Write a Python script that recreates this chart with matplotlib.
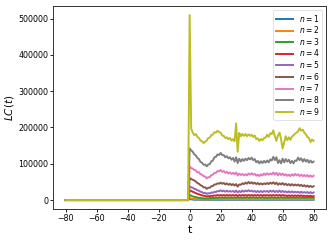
import numpy as np
import matplotlib
matplotlib.use("Agg")
import matplotlib.pyplot as plt

# time grid
t_pre = list(range(-80, 0))
t_post = list(range(0, 81))

# values for t = 0..80 (thousands); before t=0 all series are 0
n9 = [510, 197, 186, 179, 182, 174, 171, 164, 162, 157, 161, 164, 171, 172, 179, 181, 187, 186, 191, 187,
      186, 178, 177, 171, 173, 168, 171, 164, 168, 162, 211, 133, 185, 176, 182, 177, 182, 176, 181, 177,
      180, 174, 178, 168, 170, 163, 168, 165, 171, 172, 180, 174, 184, 182, 192, 176, 163, 178, 186, 168,
      142, 158, 176, 165, 173, 166, 175, 178, 183, 186, 190, 198, 191, 194, 186, 181, 174, 171, 160, 167, 163]
n8 = [142, 137, 133, 126, 123, 116, 113, 105, 103, 97, 98, 93, 98, 99, 107, 109, 118, 119, 126, 124,
      130, 124, 124, 118, 121, 115, 118, 111, 116, 106, 118, 102, 114, 106, 113, 108, 114, 110, 116, 112,
      117, 110, 113, 104, 108, 101, 107, 102, 108, 103, 109, 104, 112, 109, 119, 110, 118, 102, 110, 101,
      114, 104, 113, 106, 111, 102, 108, 101, 109, 108, 117, 110, 115, 106, 113, 106, 111, 103, 109, 103, 106]
n7 = [93, 88, 87, 83, 82, 76, 77, 71, 70, 66, 65, 60, 63, 63, 69, 70, 75, 75, 80, 79,
      83, 78, 80, 75, 78, 73, 76, 72, 75, 71, 76, 68, 73, 69, 72, 68, 71, 68, 73, 70,
      74, 70, 72, 67, 70, 66, 71, 68, 73, 69, 74, 70, 73, 71, 76, 70, 75, 68, 74, 69,
      73, 68, 71, 67, 70, 66, 71, 67, 72, 68, 71, 66, 70, 66, 69, 65, 69, 64, 68, 64, 67]
n6 = [61, 58, 56, 54, 51, 47, 45, 41, 39, 35, 35, 31, 34, 34, 38, 39, 43, 43, 46, 45,
      48, 45, 47, 43, 46, 42, 45, 41, 44, 40, 44, 37, 43, 42, 46, 44, 48, 45, 50, 46,
      49, 45, 48, 44, 47, 43, 46, 43, 46, 44, 47, 44, 48, 45, 49, 44, 48, 42, 46, 43,
      47, 42, 45, 41, 44, 40, 44, 40, 43, 40, 43, 39, 42, 38, 41, 37, 40, 36, 39, 36, 38]
n5 = [38, 35, 34, 31, 30, 27, 26, 23, 22, 19, 20, 17, 19, 18, 21, 20, 23, 22, 25, 24,
      27, 24, 26, 23, 26, 23, 25, 23, 25, 22, 26, 21, 25, 22, 26, 23, 26, 24, 27, 24,
      26, 23, 25, 22, 25, 22, 25, 22, 25, 23, 25, 22, 26, 23, 26, 22, 25, 22, 26, 22,
      25, 22, 24, 21, 24, 21, 24, 21, 23, 21, 23, 20, 23, 20, 22, 20, 22, 19, 22, 19, 21]
n4 = [27, 25, 23, 21, 19, 17, 16, 14, 13, 12, 11, 10, 11, 10, 12, 11, 13, 12, 14, 12,
      14, 12, 14, 12, 14, 12, 14, 12, 14, 12, 14, 11, 14, 12, 14, 12, 14, 12, 14, 12,
      14, 12, 14, 12, 14, 12, 14, 12, 14, 12, 14, 12, 14, 12, 14, 12, 14, 12, 14, 12,
      14, 12, 13, 11, 13, 11, 13, 11, 13, 11, 13, 11, 13, 11, 12, 10, 12, 10, 12, 10, 11]
n3 = [14, 12, 10, 9, 8, 7, 6, 6, 5, 5, 4, 5, 4, 6, 5, 6, 5, 7, 5, 7,
      6, 7, 6, 7, 6, 7, 6, 7, 6, 7, 6, 7, 6, 7, 6, 7, 6, 8, 6, 7,
      6, 8, 6, 7, 6, 7, 6, 8, 6, 7, 6, 7, 6, 8, 6, 7, 6, 7, 6, 8,
      6, 7, 6, 7, 6, 7, 6, 7, 6, 7, 6, 7, 6, 7, 6, 7, 6, 7, 6, 7, 6]
n2 = [6, 4, 3.5, 3, 2.5, 2, 2.5, 1.5, 2, 1.5, 2, 1.5, 2, 1.5, 2.5, 1.5, 2.5, 2, 2.5, 2,
      2.5, 2, 2.5, 2, 2.5, 2, 2.5, 2, 2.5, 2, 2.5, 2, 2.5, 2, 2.5, 2, 2.5, 2, 2.5, 2,
      2.5, 2, 2.5, 2, 2.5, 2, 2.5, 2, 2.5, 2, 2.5, 2, 2.5, 2, 2.5, 2, 2.5, 2, 2.5, 2,
      2.5, 2, 2.5, 2, 2.5, 2, 2.5, 2, 2.5, 2, 2.5, 2, 2.5, 2, 2.5, 2, 2.5, 2, 2.5, 2, 2.5]
n1 = [3, 2, 1.5, 1, 1, 0.8, 1, 0.6, 0.8, 0.6, 0.8, 0.6, 0.8, 0.6, 0.8, 0.6, 0.8, 0.6, 0.8, 0.6,
      0.8, 0.6, 0.8, 0.6, 0.8, 0.6, 0.8, 0.6, 0.8, 0.6, 0.8, 0.6, 0.8, 0.6, 0.8, 0.6, 0.8, 0.6, 0.8, 0.6,
      0.8, 0.6, 0.8, 0.6, 0.8, 0.6, 0.8, 0.6, 0.8, 0.6, 0.8, 0.6, 0.8, 0.6, 0.8, 0.6, 0.8, 0.6, 0.8, 0.6,
      0.8, 0.6, 0.8, 0.6, 0.8, 0.6, 0.8, 0.6, 0.8, 0.6, 0.8, 0.6, 0.8, 0.6, 0.8, 0.6, 0.8, 0.6, 0.8, 0.6, 0.8]

series = [n1, n2, n3, n4, n5, n6, n7, n8, n9]
labels = [f"$n = {i}$" for i in range(1, 10)]
colors = ["#1f77b4", "#ff7f0e", "#2ca02c", "#d62728", "#9467bd",
          "#8c564b", "#e377c2", "#7f7f7f", "#bcbd22"]

fig = plt.figure(figsize=(3.33, 2.41), dpi=100)
ax = fig.add_axes([0.160, 0.1315, 0.819, 0.8445])

t = np.array(t_pre + t_post)
for s, lab, c in zip(series, labels, colors):
    y = np.concatenate([np.zeros(len(t_pre)), np.array(s) * 1000.0])
    ax.plot(t, y, color=c, lw=1.4, label=lab)

ax.set_xticks([-80, -60, -40, -20, 0, 20, 40, 60, 80])
ax.set_yticks([0, 100000, 200000, 300000, 400000, 500000])
ax.tick_params(labelsize=5.7, length=2, width=0.6, pad=1.5)
for sp in ax.spines.values():
    sp.set_linewidth(0.7)
    sp.set_color("#333333")
ax.set_xlabel("t", fontsize=8, labelpad=1)
ax.set_ylabel("$LC(t)$", fontsize=7.5, labelpad=2)
leg = ax.legend(loc="upper right", fontsize=5.5, handlelength=2.2, borderpad=0.4,
                labelspacing=0.08, handletextpad=0.7, frameon=True)
leg.get_frame().set_linewidth(0.5)

fig.savefig("out.png", dpi=100)
